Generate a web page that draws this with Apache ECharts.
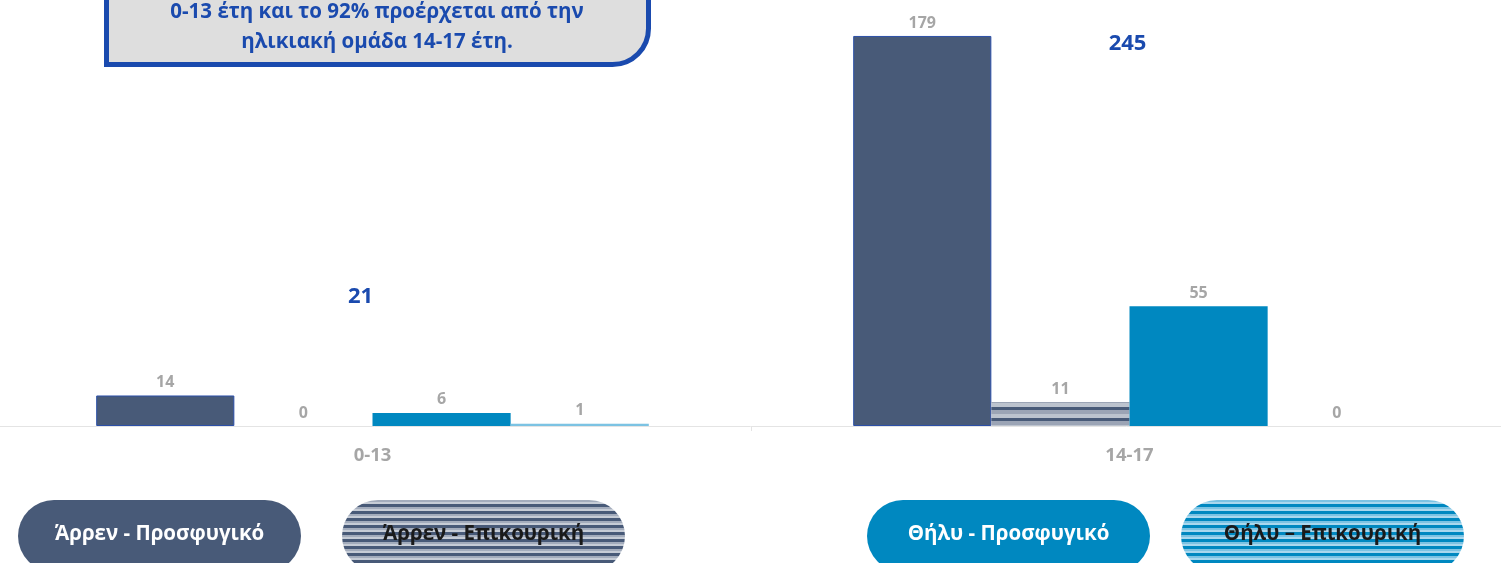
<!DOCTYPE html>
<html>
<head>
<meta charset="utf-8">
<script src="https://cdn.jsdelivr.net/npm/echarts@6/dist/echarts.min.js"></script>
<style>
html,body{margin:0;padding:0;background:#fff;}
#chart{width:1501px;height:563px;}
</style>
</head>
<body>
<div id="chart"></div>
<script>
// ---- data ----
const categories = ['0-13', '14-17'];
const seriesNames = ['Άρρεν - Προσφυγικό', 'Άρρεν - Επικουρική', 'Θήλυ - Προσφυγικό', 'Θήλυ – Επικουρική'];
const maleRefugee = [14, 179];
const maleSubsidiary = [0, 11];
const femaleRefugee = [6, 55];
const femaleSubsidiary = [1, 0];
const totals = [21, 245];
const noteLines = ['0-13 έτη και το 92% προέρχεται από την', 'ηλικιακή ομάδα 14-17 έτη.'];

// ---- styles ----
const FONT = '"Open Sans", "Noto Sans", sans-serif';
const SLATE = '#485A78';
const BLUE = '#0088C0';
const NAVY = '#1A4AAE';
const GREY = '#A6A6A6';

function stripes(parts) {
  const c = document.createElement('canvas');
  const h = parts.reduce((s, p) => s + p[1], 0);
  c.width = 8; c.height = h;
  const ctx = c.getContext('2d');
  let y = 0;
  parts.forEach(p => { ctx.fillStyle = p[0]; ctx.fillRect(0, y, 8, p[1]); y += p[1]; });
  return { image: c, repeat: 'repeat' };
}
const slateBarPat = stripes([[SLATE, 3], ['#9BA4B5', 4], ['#BCC3CE', 4]]);
const blueBarPat = stripes([['#A9D8EE', 1], ['#7CC3E3', 1], [BLUE, 3], ['#7CC3E3', 3], ['#A9D8EE', 3]]);
const slatePillPat = stripes([[SLATE, 3], ['#A3ACBC', 2], ['#C6CCD6', 2]]);
const bluePillPat = stripes([[BLUE, 3], ['#7CC3E3', 2], ['#A9D8EE', 2]]);

const labelCfg = { show: true, position: 'top', distance: 5, color: GREY, fontFamily: FONT, fontWeight: 'bold', fontSize: 16 };

function barSeries(name, data, color, border) {
  return {
    type: 'bar', name, data,
    barGap: '0%', barCategoryGap: '27%',
    itemStyle: { color, borderColor: border || 'transparent', borderWidth: border ? 1 : 0 },
    label: labelCfg,
    emphasis: { disabled: true }
  };
}

const legendDefs = [
  { x: 18, fill: SLATE, text: '#ffffff' },
  { x: 342, fill: slatePillPat, text: '#1a1a1a' },
  { x: 867, fill: BLUE, text: '#ffffff' },
  { x: 1181, fill: bluePillPat, text: '#1a1a1a' }
];

const graphics = [
  {
    type: 'rect', shape: { x: 106.5, y: -60, width: 542, height: 124.5, r: [0, 0, 36, 0] },
    style: { fill: '#DEDEDE', stroke: NAVY, lineWidth: 5 }, z: 10
  },
  ...noteLines.map((t, i) => ({
    type: 'text', x: 377, y: 12 + i * 30, z: 11,
    style: { text: t, fill: NAVY, font: 'bold 20.5px ' + FONT, textAlign: 'center', textVerticalAlign: 'middle' }
  })),
  ...legendDefs.map((d, i) => ({
    type: 'group', z: 10,
    children: [
      { type: 'rect', shape: { x: d.x, y: 500, width: 283, height: 72, r: 36 }, style: { fill: d.fill } },
      { type: 'text', x: d.x + 141.5, y: 534, style: { text: seriesNames[i], fill: d.text, font: 'bold 20.5px ' + FONT, textAlign: 'center', textVerticalAlign: 'middle' } }
    ]
  }))
];

const chart = echarts.init(document.getElementById('chart'));
chart.setOption({
  animation: false,
  backgroundColor: '#ffffff',
  grid: { left: -6, width: 1514, top: 12, bottom: 137, containLabel: false, outerBoundsMode: 'none' },
  xAxis: {
    type: 'category', data: categories,
    axisLine: { lineStyle: { color: '#E4E4E4', width: 1 } },
    axisTick: { show: true, length: 5, lineStyle: { color: '#E4E4E4' } },
    axisLabel: { color: GREY, fontFamily: FONT, fontWeight: 'bold', fontSize: 18.5, margin: 20 }
  },
  yAxis: [
    { type: 'value', min: 0, max: 190, show: false, splitLine: { show: false } },
    { type: 'value', min: -93, max: 273, show: false, splitLine: { show: false } }
  ],
  series: [
    barSeries(seriesNames[0], maleRefugee, SLATE, '#2B4FA8'),
    barSeries(seriesNames[1], maleSubsidiary, slateBarPat),
    barSeries(seriesNames[2], femaleRefugee, BLUE),
    barSeries(seriesNames[3], femaleSubsidiary, blueBarPat),
    {
      type: 'scatter', name: 'Σύνολο', yAxisIndex: 1, symbolSize: 0,
      data: totals.map((v, i) => ({ value: v, label: { offset: [i === 0 ? -12 : -2, 0] } })),
      itemStyle: { opacity: 1 },
      label: { show: true, position: 'inside', color: NAVY, fontFamily: FONT, fontWeight: 'bold', fontSize: 22, formatter: p => p.value },
      emphasis: { disabled: true }
    }
  ],
  graphic: graphics
});
</script>
</body>
</html>
